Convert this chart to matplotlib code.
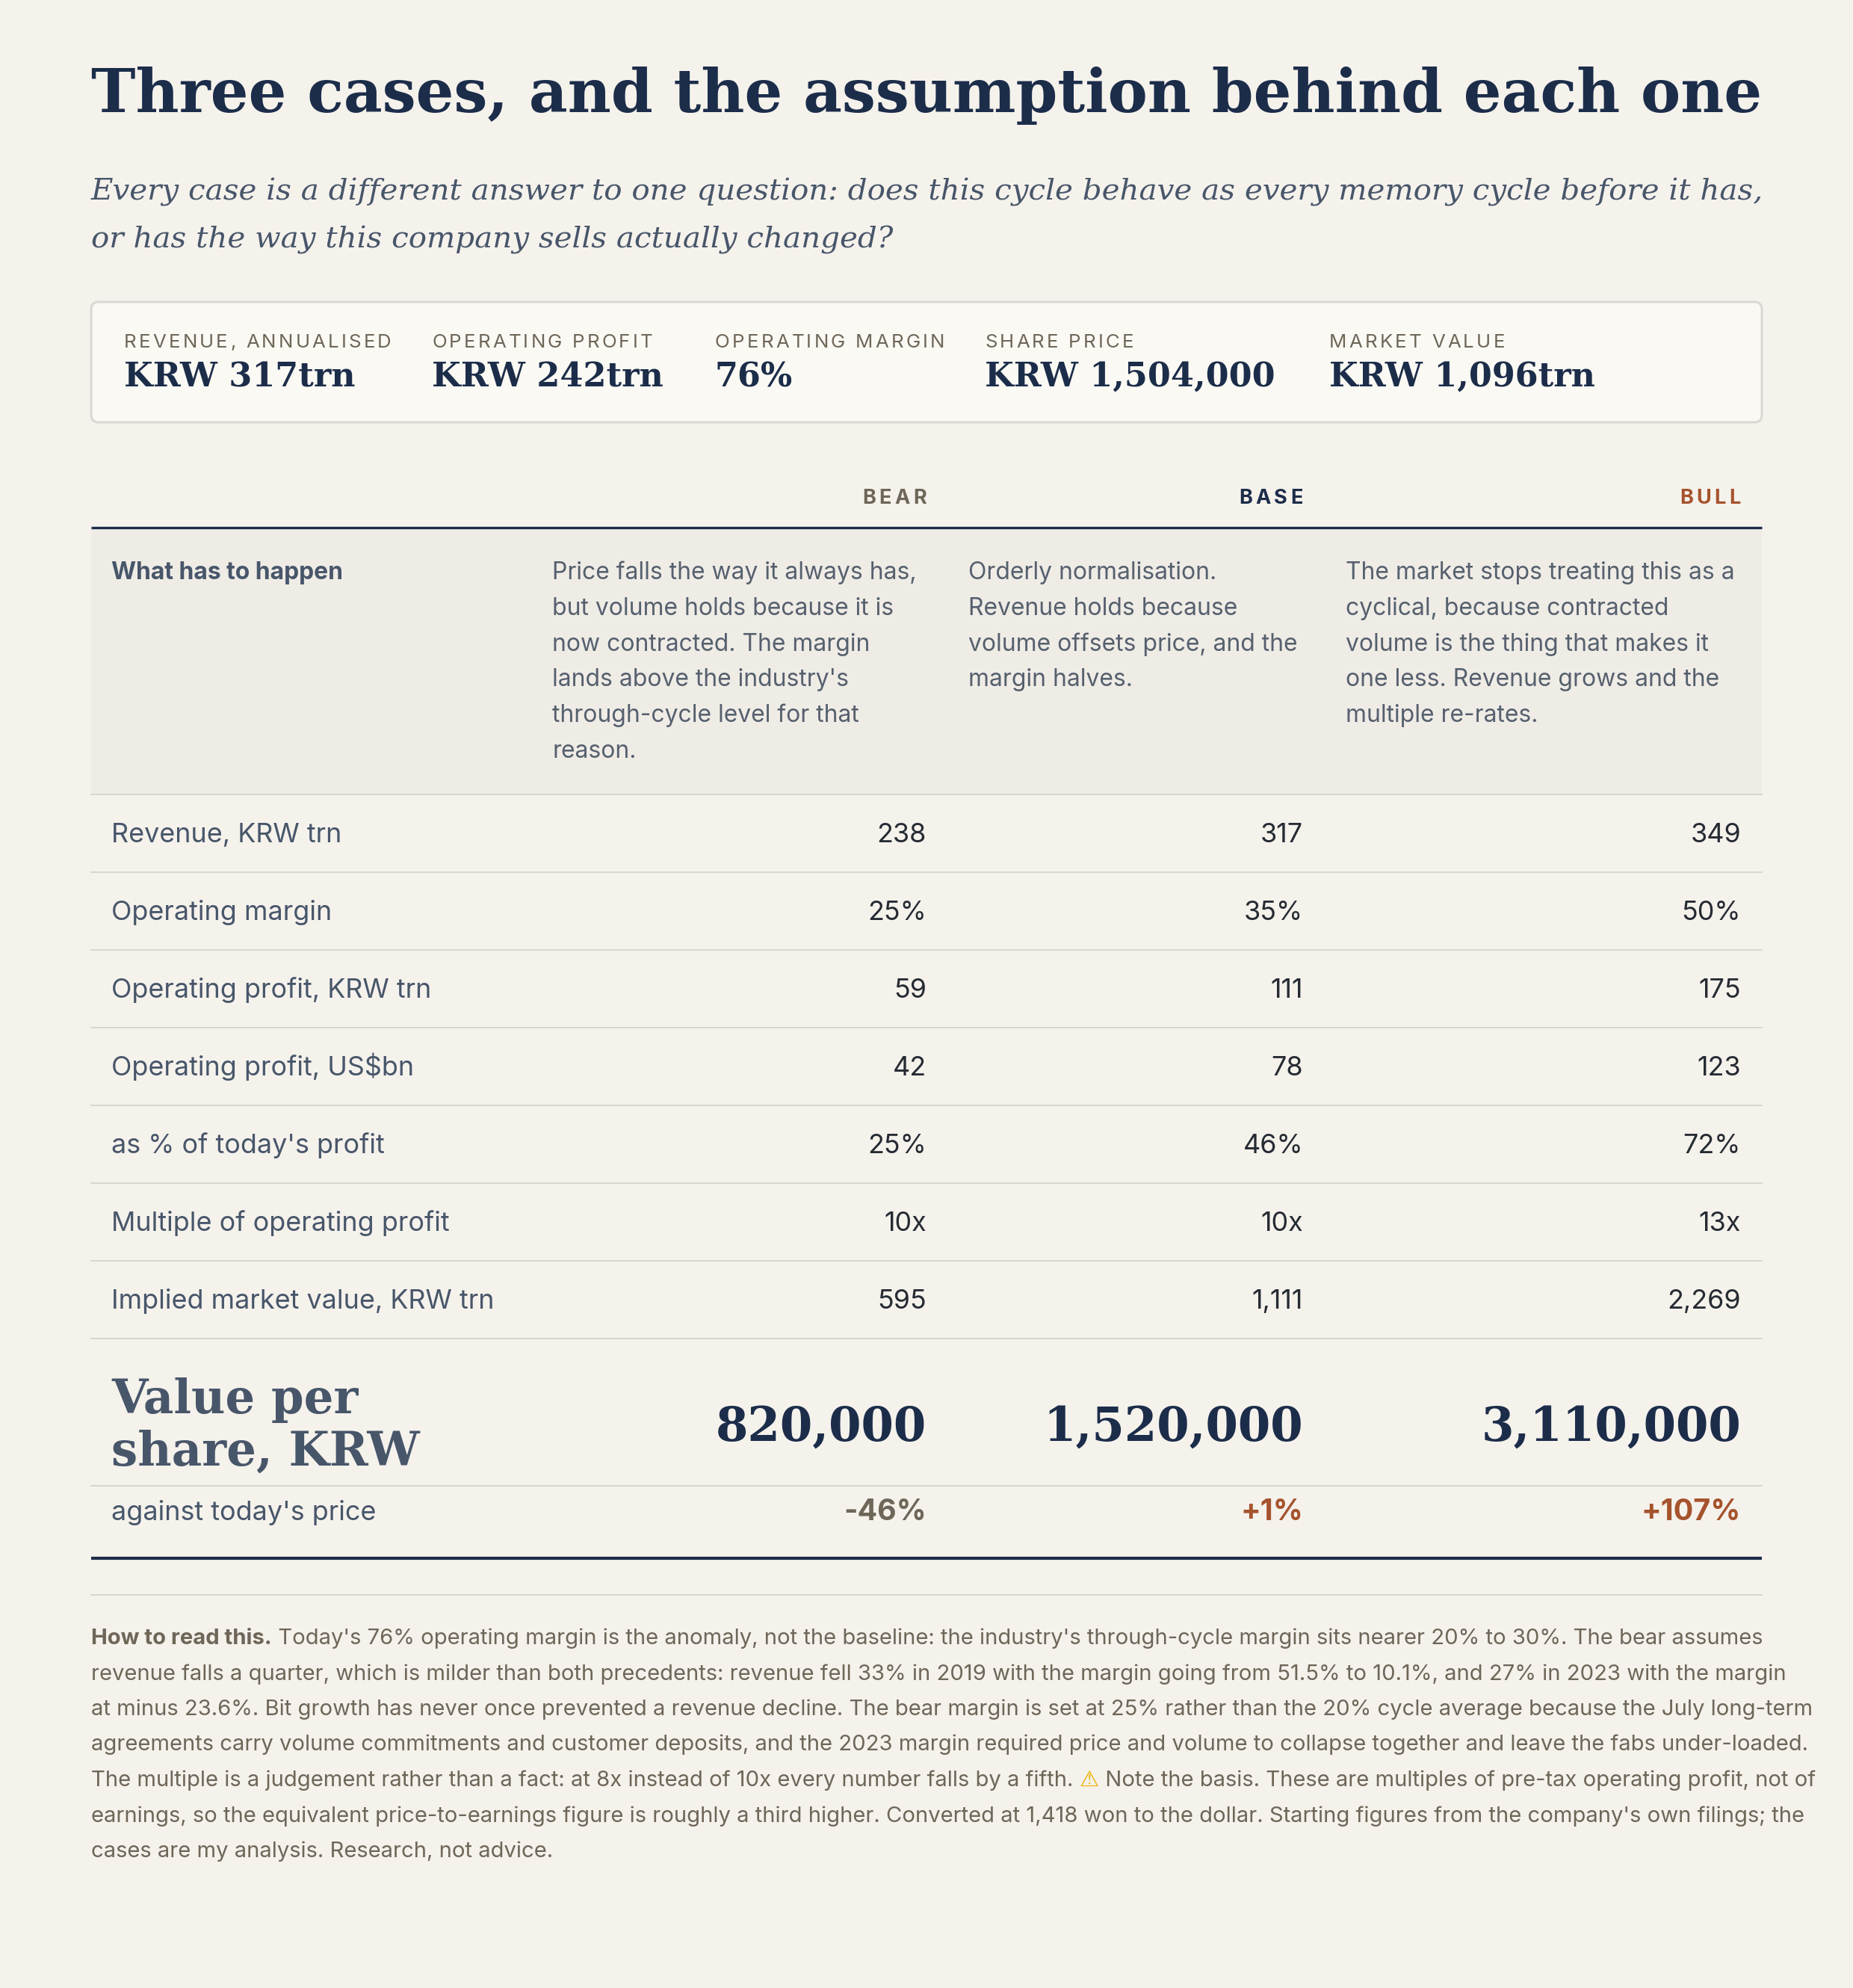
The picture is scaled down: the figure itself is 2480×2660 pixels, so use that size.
import matplotlib
matplotlib.use("Agg")
import matplotlib.pyplot as plt
from matplotlib.patches import FancyBboxPatch, Rectangle

# ---- data ----
title = "Three cases, and the assumption behind each one"
subtitle = ["Every case is a different answer to one question: does this cycle behave as every memory cycle before it has,",
            "or has the way this company sells actually changed?"]

kpi_labels = ["REVENUE, ANNUALISED", "OPERATING PROFIT", "OPERATING MARGIN", "SHARE PRICE", "MARKET VALUE"]
kpi_values = ["KRW 317trn", "KRW 242trn", "76%", "KRW 1,504,000", "KRW 1,096trn"]

cases = ["BEAR", "BASE", "BULL"]
what_happens = [
    "Price falls the way it always has,\nbut volume holds because it is\nnow contracted. The margin\nlands above the industry's\nthrough-cycle level for that\nreason.",
    "Orderly normalisation.\nRevenue holds because\nvolume offsets price, and the\nmargin halves.",
    "The market stops treating this as a\ncyclical, because contracted\nvolume is the thing that makes it\none less. Revenue grows and the\nmultiple re-rates.",
]

row_labels = ["Revenue, KRW trn", "Operating margin", "Operating profit, KRW trn",
              "Operating profit, US$bn", "as % of today's profit",
              "Multiple of operating profit", "Implied market value, KRW trn"]
revenue = [238, 317, 349]
op_margin = [25, 35, 50]
op_profit_krw = [59, 111, 175]
op_profit_usd = [42, 78, 123]
pct_of_today = [25, 46, 72]
multiple = [10, 10, 13]
implied_value = [595, 1111, 2269]
value_per_share = [820000, 1520000, 3110000]
vs_today = [-46, 1, 107]

footnote_lead = "How to read this."
footnote = [
    "Today's 76% operating margin is the anomaly, not the baseline: the industry's through-cycle margin sits nearer 20% to 30%. The bear assumes",
    "revenue falls a quarter, which is milder than both precedents: revenue fell 33% in 2019 with the margin going from 51.5% to 10.1%, and 27% in 2023 with the margin",
    "at minus 23.6%. Bit growth has never once prevented a revenue decline. The bear margin is set at 25% rather than the 20% cycle average because the July long-term",
    "agreements carry volume commitments and customer deposits, and the 2023 margin required price and volume to collapse together and leave the fabs under-loaded.",
    "The multiple is a judgement rather than a fact: at 8x instead of 10x every number falls by a fifth.",
    "earnings, so the equivalent price-to-earnings figure is roughly a third higher. Converted at 1,418 won to the dollar. Starting figures from the company's own filings; the",
    "cases are my analysis. Research, not advice.",
]
footnote_warn_tail = "Note the basis. These are multiples of pre-tax operating profit, not of"

# ---- style ----
BG = "#f5f2ec"
NAVY = "#1c2d4a"
SLATE = "#48566a"
BROWN = "#6e6658"
RUST = "#a5532d"
DARK = "#262b33"
SERIF = "DejaVu Serif"
SANS = ["Inter", "Liberation Sans", "DejaVu Sans"]
case_colors = [BROWN, NAVY, RUST]

W, H = 2480, 2660
fig = plt.figure(figsize=(W / 100, H / 100), dpi=100)
fig.patch.set_facecolor(BG)
ax = fig.add_axes([0, 0, 1, 1])
ax.set_xlim(0, W)
ax.set_ylim(H, 0)
ax.axis("off")
renderer = fig.canvas.get_renderer()


def text_w(s, **kw):
    t = ax.text(0, 0, "|" + s + "|", **kw)
    w = t.get_window_extent(renderer).width
    t.remove()
    t = ax.text(0, 0, "||", **kw)
    w -= t.get_window_extent(renderer).width
    t.remove()
    return w


def fit_size(s, target, **kw):
    return 40 * target / text_w(s, fontsize=40, **kw)


def spaced(x, y, s, spacing, ha="left", **kw):
    widths = [text_w(c, **kw) for c in s]
    total = sum(widths) + spacing * (len(s) - 1)
    if ha == "right":
        x -= total
    for c, w in zip(s, widths):
        ax.text(x, y, c, ha="left", va="baseline", **kw)
        x += w + spacing


def runs(x, y, parts, **kw):
    for s, extra in parts:
        opts = dict(kw)
        opts.update(extra)
        ax.text(x, y, s, va="baseline", **opts)
        x += text_w(s, **opts)


L, R = 122, 2358
col_right = [1240, 1744, 2330]
col_left = [739, 1296, 1801]

# title + subtitle
fs = fit_size(title, 2232, family=SERIF, weight="bold")
ax.text(L, 150, title, fontsize=fs, family=SERIF, weight="bold", color=NAVY, va="baseline")
fs = fit_size(subtitle[0], 2236, family=SERIF, style="italic")
for i, line in enumerate(subtitle):
    ax.text(L, 268 + 63 * i, line, fontsize=fs, family=SERIF, style="italic", color=SLATE, va="baseline")

# KPI strip
ax.add_patch(FancyBboxPatch((L, 404), R - L, 161, boxstyle="round,pad=0,rounding_size=10",
                            facecolor="#fbf9f3", edgecolor="#d9d8d4", linewidth=2.2))
kpi_x = [166, 578, 957, 1318, 1779]
kfs = fit_size("REVENUE, ANNUALISED", 358 - 18 * 3.2, family=SANS)
for x, lab, val in zip(kpi_x, kpi_labels, kpi_values):
    spaced(x, 465, lab, 3.2, fontsize=kfs, family=SANS, color=BROWN)
    ax.text(x, 517, val, fontsize=32, family=SERIF, weight="bold", color=NAVY, va="baseline")

# column heads
for xr, c, col in zip(col_right, cases, case_colors):
    spaced(xr, 674, c, 4.5, ha="right", fontsize=kfs + 1, family=SANS, weight="bold", color=col)
ax.plot([L, R], [706, 706], color=NAVY, lw=2.4, solid_capstyle="butt")

# what has to happen
dfs = fit_size("Price falls the way it always has,", 488, family=SANS)
ax.add_patch(Rectangle((L, 708), R - L, 355, facecolor="#efece6", edgecolor="none"))
ax.text(149, 775, "What has to happen", fontsize=dfs, family=SANS, weight="bold", color=SLATE, va="baseline")
for x, txt in zip(col_left, what_happens):
    for j, line in enumerate(txt.split("\n")):
        ax.text(x, 775 + 47.8 * j, line, fontsize=dfs, family=SANS, color="#56606e", va="baseline")

# numeric rows
rows = [
    [f"{v}" for v in revenue],
    [f"{v}%" for v in op_margin],
    [f"{v}" for v in op_profit_krw],
    [f"{v}" for v in op_profit_usd],
    [f"{v}%" for v in pct_of_today],
    [f"{v}x" for v in multiple],
    [f"{v:,}" for v in implied_value],
]
rfs = fit_size("Implied market value, KRW trn", 512, family=SANS)
top, rh = 1063, 104
ax.plot([L, R], [top, top], color="#d6d4cf", lw=1.3)
for i, (lab, vals) in enumerate(zip(row_labels, rows)):
    yb = top + rh * i + rh / 2 + 12
    ax.text(149, yb, lab, fontsize=rfs, family=SANS, color=SLATE, va="baseline")
    for xr, v in zip(col_right, vals):
        ax.text(xr, yb, v, fontsize=rfs, family=SANS, color=DARK, ha="right", va="baseline")
    ax.plot([L, R], [top + rh * (i + 1)] * 2, color="#d6d4cf", lw=1.3)

# value per share
ax.text(149, 1891, "Value per", fontsize=45, family=SERIF, weight="bold", color=SLATE, va="baseline")
ax.text(149, 1961, "share, KRW", fontsize=45, family=SERIF, weight="bold", color=SLATE, va="baseline")
for xr, v in zip(col_right, value_per_share):
    ax.text(xr, 1928, f"{v:,}", fontsize=45, family=SERIF, weight="bold", color=NAVY, ha="right", va="baseline")
ax.plot([L, R], [1988, 1988], color="#d6d4cf", lw=1.3)

ax.text(149, 2034, "against today's price", fontsize=rfs, family=SANS, color=SLATE, va="baseline")
for xr, v, col in zip(col_right, vs_today, [BROWN, RUST, RUST]):
    ax.text(xr, 2034, f"{v:+d}%", fontsize=rfs + 2.5, family=SANS, weight="bold", color=col, ha="right", va="baseline")
ax.plot([L, R], [2085, 2085], color=NAVY, lw=3, solid_capstyle="butt")
ax.plot([L, R], [2134, 2134], color="#d6d4cf", lw=1.3)

# footnote
ffs = fit_size(footnote_lead + " " + footnote[0], 2234, family=SANS)
fkw = dict(fontsize=ffs, family=SANS, color=BROWN)
y0, ls = 2200, 47.5
for i, line in enumerate(footnote):
    y = y0 + ls * i
    if i == 0:
        runs(L, y, [(footnote_lead, {"weight": "bold"}), (" " + line, {})], **fkw)
    elif i == 4:
        runs(L, y, [(line + " ", {}), ("\u26a0", {"family": "DejaVu Sans", "color": "#e9b000"}),
                    (" " + footnote_warn_tail, {})], **fkw)
    else:
        ax.text(L, y, line, va="baseline", **fkw)

fig.savefig("out.png", dpi=100, facecolor=BG)
